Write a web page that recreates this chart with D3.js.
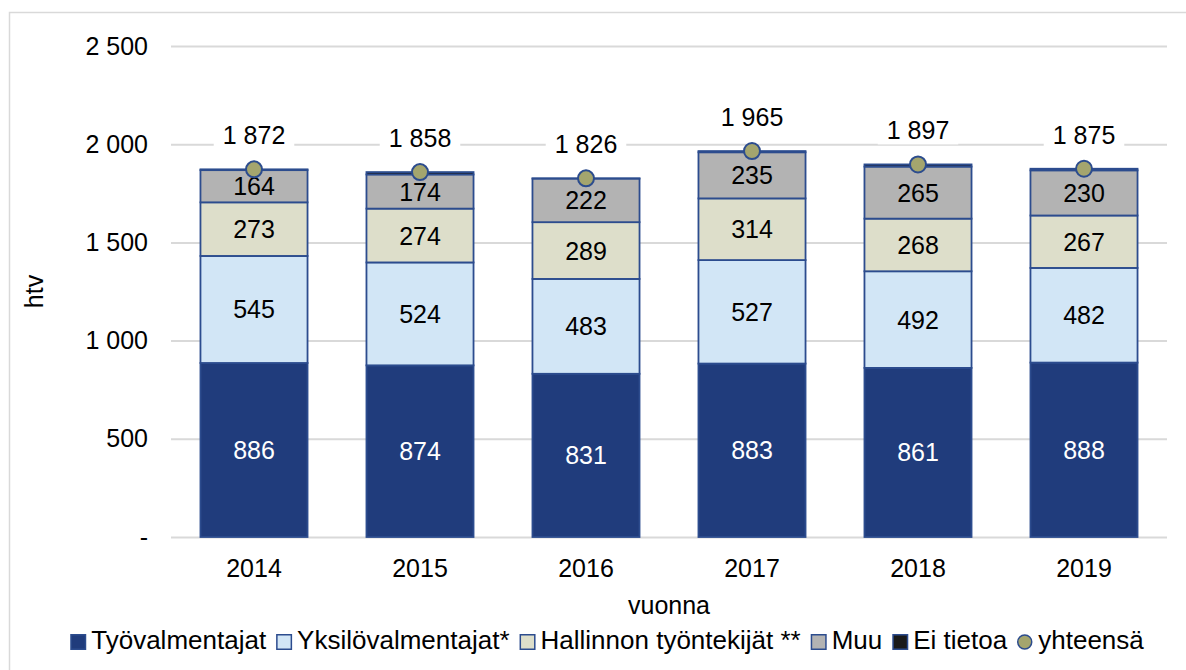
<!DOCTYPE html>
<html>
<head>
<meta charset="utf-8">
<script src="https://cdn.jsdelivr.net/npm/d3@7"></script>
<style>
  body { margin: 0; background: #fff; }
  svg { display: block; font-family: "Liberation Sans", Arial, sans-serif; }
</style>
</head>
<body>
<div id="chart"></div>
<script>
// data
var years = ["2014", "2015", "2016", "2017", "2018", "2019"];
var tyovalmentajat = [886, 874, 831, 883, 861, 888];
var yksilovalmentajat = [545, 524, 483, 527, 492, 482];
var hallinnon = [273, 274, 289, 314, 268, 267];
var muu = [164, 174, 222, 235, 265, 230];
var eiTietoa = [4, 12, 1, 6, 11, 8];
var yhteensa = [1872, 1858, 1826, 1965, 1897, 1875];
var yTicks = [0, 500, 1000, 1500, 2000, 2500];

var seriesNames = ["Työvalmentajat", "Yksilövalmentajat*", "Hallinnon työntekijät **", "Muu", "Ei tietoa"];
var seriesData = [tyovalmentajat, yksilovalmentajat, hallinnon, muu, eiTietoa];
var fills = ["#203C7C", "#D2E6F6", "#DDDECA", "#B3B3B3", "#1A1A1A"];
var labelColors = ["#fff", "#000", "#000", "#000", null];
var strokeCol = "#2C4C8E";

// size
var W = 1186, H = 670;
var margin = {top: 46, left: 171, right: 19, bottom: 133};
var plotW = W - margin.left - margin.right;
var plotH = H - margin.top - margin.bottom;
var fontSize = 25;

var fmt = function(v) { return d3.format(",")(v).replace(/,/g, " "); };

var svg = d3.select("#chart").append("svg").attr("width", W).attr("height", H);

// outer border
svg.append("rect")
  .attr("x", 9.5).attr("y", 12.5)
  .attr("width", 1196).attr("height", 680)
  .attr("fill", "none").attr("stroke", "#D9D9D9").attr("stroke-width", 1.5);

var g = svg.append("g").attr("transform", "translate(" + margin.left + "," + margin.top + ")");

var x = d3.scaleBand().domain(years).range([0, plotW]).paddingInner(0.355).paddingOuter(0.1775);
var y = d3.scaleLinear().domain([0, 2500]).range([plotH, 0]);

// gridlines
var grid = g.append("g").call(d3.axisLeft(y).tickValues(yTicks).tickSize(-plotW).tickFormat(""));
grid.select(".domain").remove();
grid.selectAll("line").attr("stroke", "#D9D9D9").attr("stroke-width", 2);

// y axis labels
var yAxis = g.append("g").call(d3.axisLeft(y).tickValues(yTicks).tickSize(0).tickPadding(23)
  .tickFormat(function(d) { return d === 0 ? "-" : fmt(d); }));
yAxis.select(".domain").remove();
yAxis.selectAll("text").attr("font-size", fontSize).attr("font-family", "Liberation Sans, Arial, sans-serif").attr("fill", "#000");

// x axis labels
var xAxis = g.append("g").attr("transform", "translate(0," + plotH + ")")
  .call(d3.axisBottom(x).tickSize(0).tickPadding(22));
xAxis.select(".domain").remove();
xAxis.selectAll("text").attr("font-size", fontSize).attr("font-family", "Liberation Sans, Arial, sans-serif").attr("fill", "#000");

// stacked bars
var rows = years.map(function(yr, i) {
  var r = {year: yr};
  seriesNames.forEach(function(s, k) { r[s] = seriesData[k][i]; });
  return r;
});
var stacked = d3.stack().keys(seriesNames)(rows);

var layers = g.append("g").selectAll("g").data(stacked).enter().append("g")
  .attr("fill", function(d, k) { return fills[k]; });

layers.selectAll("rect").data(function(d) { return d; }).enter().append("rect")
  .attr("x", function(d) { return x(d.data.year); })
  .attr("y", function(d) { return y(d[1]); })
  .attr("width", x.bandwidth())
  .attr("height", function(d) { return y(d[0]) - y(d[1]); })
  .attr("stroke", strokeCol)
  .attr("stroke-width", 1.8);

// segment labels
stacked.forEach(function(layer, k) {
  if (!labelColors[k]) return;
  g.append("g").selectAll("text").data(layer).enter().append("text")
    .attr("x", function(d) { return x(d.data.year) + x.bandwidth() / 2; })
    .attr("y", function(d) { return (y(d[0]) + y(d[1])) / 2; })
    .attr("dy", "0.36em")
    .attr("text-anchor", "middle")
    .attr("font-size", fontSize)
    .attr("fill", labelColors[k])
    .text(function(d) { return fmt(d[1] - d[0]); });
});

// totals
var totals = g.append("g");
years.forEach(function(yr, i) {
  var cx = x(yr) + x.bandwidth() / 2;
  var cy = y(yhteensa[i]);
  var lbl = totals.append("g");
  var t = lbl.append("text")
    .attr("x", cx).attr("y", cy - 25)
    .attr("text-anchor", "middle")
    .attr("font-size", fontSize)
    .attr("fill", "#000")
    .text(fmt(yhteensa[i]));
  var bb = t.node().getBBox();
  lbl.insert("rect", "text")
    .attr("x", bb.x - 9).attr("y", bb.y)
    .attr("width", bb.width + 18).attr("height", bb.height)
    .attr("fill", "#fff");
  totals.append("circle")
    .attr("cx", cx).attr("cy", cy).attr("r", 8)
    .attr("fill", "#A4A56E").attr("stroke", strokeCol).attr("stroke-width", 2);
});

// axis titles
svg.append("text")
  .attr("transform", "translate(43," + (margin.top + plotH / 2) + ") rotate(-90)")
  .attr("text-anchor", "middle").attr("font-size", fontSize).attr("fill", "#000")
  .text("htv");

svg.append("text")
  .attr("x", margin.left + plotW / 2).attr("y", 614)
  .attr("text-anchor", "middle").attr("font-size", fontSize).attr("fill", "#000")
  .text("vuonna");

// legend
var legendItems = seriesNames.map(function(s, k) { return {name: s, fill: fills[k], type: "rect"}; });
legendItems.push({name: "yhteensä", fill: "#A4A56E", type: "circle"});

var legend = svg.append("g");
var lx = 0;
legendItems.forEach(function(it) {
  var item = legend.append("g").attr("transform", "translate(" + lx + ",0)");
  if (it.type === "rect") {
    item.append("rect").attr("x", 0.75).attr("y", -14.25).attr("width", 14.5).attr("height", 14.5)
      .attr("fill", it.fill).attr("stroke", strokeCol).attr("stroke-width", 1.5);
  } else {
    item.append("circle").attr("cx", 7.5).attr("cy", -7).attr("r", 7)
      .attr("fill", it.fill).attr("stroke", strokeCol).attr("stroke-width", 1.5);
  }
  var t = item.append("text").attr("x", 21).attr("y", 0)
    .attr("font-size", 26).attr("fill", "#000").text(it.name);
  lx += 21 + t.node().getComputedTextLength() + 10;
});
lx -= 10;
legend.attr("transform", "translate(" + (607 - lx / 2) + ",649)");
</script>
</body>
</html>
